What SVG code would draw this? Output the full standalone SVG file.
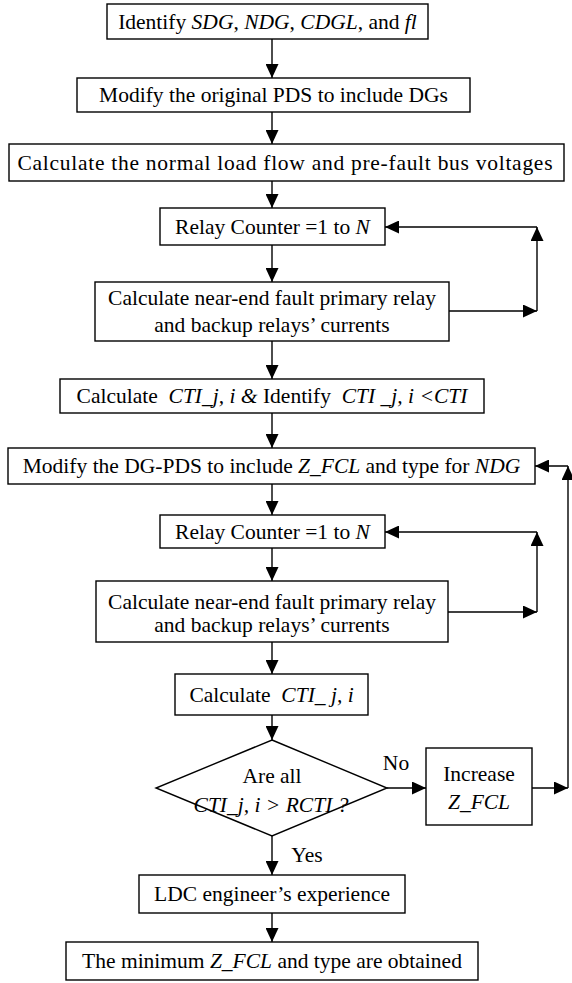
<svg xmlns="http://www.w3.org/2000/svg" width="572" height="983" viewBox="0 0 572 983">
<style>
.box{fill:#fff;stroke:#000;stroke-width:1.4}
.t{font-family:'Liberation Serif','Times New Roman',Times,serif;font-size:21.5px;fill:#000;text-anchor:middle;white-space:pre}
.i{font-style:italic}
.c{fill:none;stroke:#000;stroke-width:1.4}
</style>
<defs>
<marker id="ah" markerUnits="userSpaceOnUse" markerWidth="14" markerHeight="13" refX="14" refY="6.5" orient="auto">
<path d="M0,0 L14,6.5 L0,13 Z" fill="#000"/>
</marker>
</defs>
<rect width="572" height="983" fill="#fff"/>
<g id="connectors">
<path class="c" marker-end="url(#ah)" d="M272,39 V78"/>
<path class="c" marker-end="url(#ah)" d="M272,112 V144"/>
<path class="c" marker-end="url(#ah)" d="M272,181 V208"/>
<path class="c" marker-end="url(#ah)" d="M272,245 V282"/>
<path class="c" marker-end="url(#ah)" d="M272,341 V379"/>
<path class="c" marker-end="url(#ah)" d="M272,413 V448"/>
<path class="c" marker-end="url(#ah)" d="M272,484 V515"/>
<path class="c" marker-end="url(#ah)" d="M272,548 V581"/>
<path class="c" marker-end="url(#ah)" d="M272,642 V674"/>
<path class="c" marker-end="url(#ah)" d="M272,715 V740"/>
<path class="c" marker-end="url(#ah)" d="M272,836 V875"/>
<path class="c" marker-end="url(#ah)" d="M272,913 V942"/>
<path class="c" marker-end="url(#ah)" d="M387,788 H426"/>
<path class="c" marker-end="url(#ah)" d="M449,311 H537"/>
<path class="c" marker-end="url(#ah)" d="M537,311 V227"/>
<path class="c" marker-end="url(#ah)" d="M537,227 H385"/>
<path class="c" marker-end="url(#ah)" d="M448,612 H537"/>
<path class="c" marker-end="url(#ah)" d="M537,612 V532"/>
<path class="c" marker-end="url(#ah)" d="M537,532 H385"/>
<path class="c" marker-end="url(#ah)" d="M532,788 H568"/>
<path class="c" marker-end="url(#ah)" d="M568,788 V466"/>
<path class="c" marker-end="url(#ah)" d="M568,466 H535"/>
<text class="t" x="396" y="770">No</text>
<text class="t" x="307" y="862">Yes</text>
</g>
<g id="n1"><rect class="box" x="107" y="4" width="321" height="35"/>
<text class="t" x="267.5" y="29">Identify <tspan class="i">SDG</tspan>, <tspan class="i">NDG</tspan>, <tspan class="i">CDGL</tspan>, and <tspan class="i">fl</tspan></text></g>
<g id="n2"><rect class="box" x="77" y="78" width="393" height="34"/>
<text class="t" x="273.5" y="102">Modify the original PDS to include DGs</text></g>
<g id="n3"><rect class="box" x="9" y="144" width="555" height="37"/>
<text class="t" x="285" y="170" textLength="535" lengthAdjust="spacing">Calculate the normal load flow and pre-fault bus voltages</text></g>
<g id="n4"><rect class="box" x="160" y="208" width="225" height="37"/>
<text class="t" x="272.5" y="234">Relay Counter =1 to <tspan class="i">N</tspan></text></g>
<g id="n5"><rect class="box" x="95" y="282" width="354" height="59"/>
<text class="t" x="272" y="305">Calculate near-end fault primary relay</text>
<text class="t" x="272" y="332">and backup relays’ currents</text></g>
<g id="n6"><rect class="box" x="60" y="379" width="424" height="34"/>
<text class="t" x="272" y="403">Calculate  <tspan class="i">CTI_j, i &amp;</tspan> Identify  <tspan class="i">CTI _j, i &lt;CTI</tspan></text></g>
<g id="n7"><rect class="box" x="8" y="448" width="527" height="36"/>
<text class="t" x="271.5" y="473">Modify the DG-PDS to include <tspan class="i">Z_FCL</tspan> and type for <tspan class="i">NDG</tspan></text></g>
<g id="n8"><rect class="box" x="160" y="515" width="225" height="33"/>
<text class="t" x="272.5" y="539">Relay Counter =1 to <tspan class="i">N</tspan></text></g>
<g id="n9"><rect class="box" x="96" y="581" width="352" height="61"/>
<text class="t" x="272" y="609">Calculate near-end fault primary relay</text>
<text class="t" x="272" y="632">and backup relays’ currents</text></g>
<g id="n10"><rect class="box" x="175" y="674" width="193" height="41"/>
<text class="t" x="271.5" y="702">Calculate  <tspan class="i">CTI_ j, i</tspan></text></g>
<g id="n11"><path class="box" d="M272,740 L387,788 L272,836 L156,788 Z"/>
<text class="t" x="272" y="783">Are all</text>
<text class="t i" x="271" y="812">CTI_j, i &gt; RCTI ?</text></g>
<g id="n12"><rect class="box" x="426" y="748" width="106" height="77"/>
<text class="t" x="479" y="781">Increase</text>
<text class="t i" x="479" y="809">Z_FCL</text></g>
<g id="n13"><rect class="box" x="139" y="875" width="266" height="38"/>
<text class="t" x="272" y="901">LDC engineer’s experience</text></g>
<g id="n14"><rect class="box" x="66" y="942" width="412" height="38"/>
<text class="t" x="272" y="968">The minimum <tspan class="i">Z_FCL</tspan> and type are obtained</text></g>
</svg>
